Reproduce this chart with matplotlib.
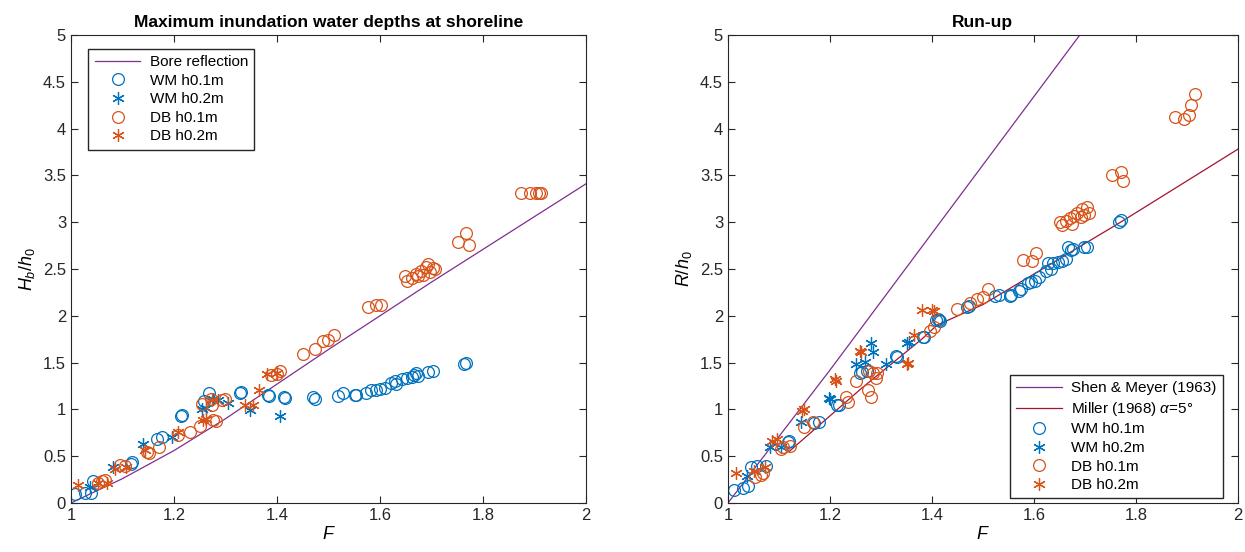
import matplotlib.pyplot as plt

plt.rcParams['font.family'] = ['Liberation Sans', 'DejaVu Sans']
plt.rcParams['mathtext.fontset'] = 'custom'
plt.rcParams['mathtext.rm'] = 'Liberation Sans'
plt.rcParams['mathtext.it'] = 'Liberation Sans:italic'

blue = "#0072BD"
orange = "#D95319"
purple = "#7E2F8E"
darkred = "#A2142F"

# ---- left panel: max inundation depth at shoreline ----
bore_F = [1.0, 1.1, 1.2, 1.3, 1.4, 1.5, 1.6, 1.7, 1.8, 1.9, 2.0]
bore_H = [0.0, 0.26, 0.56, 0.90, 1.27, 1.64, 2.0, 2.36, 2.71, 3.06, 3.41]

wm1_F = [1.008, 1.028, 1.038, 1.042, 1.116, 1.119, 1.167, 1.177, 1.214, 1.215, 1.258, 1.268,
         1.329, 1.331, 1.383, 1.385, 1.413, 1.415, 1.47, 1.474, 1.518, 1.528, 1.551, 1.554,
         1.572, 1.582, 1.593, 1.60, 1.609, 1.622, 1.629, 1.632, 1.642, 1.652, 1.663, 1.666,
         1.67, 1.673, 1.693, 1.703, 1.764, 1.767]
wm1_H = [0.10, 0.11, 0.11, 0.23, 0.42, 0.44, 0.68, 0.70, 0.93, 0.94, 1.09, 1.17,
         1.18, 1.19, 1.15, 1.14, 1.13, 1.12, 1.13, 1.11, 1.14, 1.17, 1.15, 1.15,
         1.18, 1.21, 1.21, 1.22, 1.23, 1.28, 1.30, 1.27, 1.32, 1.33, 1.35, 1.37,
         1.39, 1.36, 1.40, 1.41, 1.48, 1.50]

wm2_F = [1.037, 1.082, 1.140, 1.197, 1.254, 1.262, 1.276, 1.285, 1.305, 1.348, 1.406]
wm2_H = [0.17, 0.38, 0.63, 0.70, 1.00, 1.01, 1.11, 1.10, 1.07, 0.99, 0.93]

db1_F = [1.053, 1.060, 1.066, 1.095, 1.105, 1.147, 1.152, 1.170, 1.208, 1.231, 1.25, 1.276,
         1.281, 1.254, 1.271, 1.273, 1.293, 1.30, 1.389, 1.40, 1.405, 1.45, 1.474, 1.489,
         1.50, 1.511, 1.577, 1.593, 1.602, 1.649, 1.652, 1.663, 1.67, 1.673, 1.68, 1.684,
         1.69, 1.693, 1.697, 1.703, 1.706, 1.752, 1.767, 1.773, 1.874, 1.892, 1.902, 1.908,
         1.912]
db1_H = [0.21, 0.23, 0.25, 0.41, 0.40, 0.55, 0.53, 0.60, 0.73, 0.76, 0.82, 0.89,
         0.88, 1.06, 1.11, 1.05, 1.10, 1.11, 1.37, 1.38, 1.41, 1.59, 1.65, 1.73,
         1.74, 1.79, 2.09, 2.11, 2.11, 2.42, 2.37, 2.40, 2.45, 2.43, 2.48, 2.44,
         2.52, 2.55, 2.47, 2.51, 2.50, 2.79, 2.88, 2.76, 3.31, 3.31, 3.31, 3.31,
         3.31]

db2_F = [1.014, 1.052, 1.069, 1.085, 1.107, 1.144, 1.208, 1.257, 1.262, 1.273, 1.338, 1.354,
         1.366, 1.38, 1.40]
db2_H = [0.19, 0.21, 0.21, 0.36, 0.38, 0.57, 0.76, 0.89, 0.90, 1.10, 1.05, 1.05,
         1.21, 1.38, 1.39]

# ---- right panel: run-up ----
shen_F = [1.0, 1.2, 1.69]
shen_R = [0.0, 1.42, 5.0]

miller_F = [1.12, 1.263, 1.38, 1.41, 1.5, 1.77, 2.0]
miller_R = [0.55, 1.23, 1.75, 1.90, 2.12, 3.0, 3.78]

rwm1_F = [1.011, 1.03, 1.04, 1.046, 1.056, 1.074, 1.117, 1.12, 1.169, 1.178, 1.213, 1.217,
          1.259, 1.262, 1.272, 1.329, 1.332, 1.383, 1.385, 1.408, 1.411, 1.413, 1.415,
          1.468, 1.473, 1.524, 1.531, 1.553, 1.556, 1.57, 1.574, 1.588, 1.595, 1.602, 1.609,
          1.623, 1.627, 1.634, 1.637, 1.647, 1.655, 1.662, 1.666, 1.673, 1.676, 1.698, 1.705,
          1.767, 1.77]
rwm1_R = [0.14, 0.16, 0.18, 0.38, 0.39, 0.39, 0.65, 0.66, 0.85, 0.87, 1.05, 1.05,
          1.39, 1.40, 1.41, 1.57, 1.56, 1.77, 1.77, 1.95, 1.97, 1.95, 1.94,
          2.09, 2.10, 2.21, 2.22, 2.21, 2.22, 2.26, 2.29, 2.35, 2.36, 2.37, 2.41,
          2.48, 2.56, 2.50, 2.56, 2.58, 2.59, 2.61, 2.73, 2.70, 2.71, 2.73, 2.73,
          3.00, 3.02]

rwm2_F = [1.037, 1.083, 1.104, 1.143, 1.199, 1.2, 1.252, 1.268, 1.281, 1.284, 1.309, 1.351, 1.355]
rwm2_R = [0.29, 0.60, 0.60, 0.87, 1.12, 1.11, 1.48, 1.51, 1.71, 1.61, 1.49, 1.71, 1.72]

rdb1_F = [1.054, 1.065, 1.069, 1.104, 1.107, 1.122, 1.15, 1.167, 1.231, 1.235, 1.252, 1.274,
          1.281, 1.277, 1.284, 1.291, 1.293, 1.397, 1.404, 1.45, 1.475, 1.489, 1.50, 1.51,
          1.579, 1.597, 1.604, 1.652, 1.656, 1.663, 1.67, 1.674, 1.678, 1.685, 1.692, 1.695,
          1.698, 1.705, 1.708, 1.754, 1.77, 1.775, 1.876, 1.894, 1.904, 1.908, 1.915]
rdb1_R = [0.28, 0.30, 0.32, 0.58, 0.60, 0.61, 0.81, 0.86, 1.13, 1.08, 1.30, 1.21,
          1.13, 1.41, 1.39, 1.33, 1.39, 1.84, 1.88, 2.07, 2.14, 2.18, 2.20, 2.29,
          2.60, 2.59, 2.67, 3.00, 2.97, 3.01, 3.05, 2.98, 3.07, 3.10, 3.06, 3.14,
          3.08, 3.16, 3.10, 3.50, 3.54, 3.44, 4.12, 4.10, 4.14, 4.25, 4.37]

rdb2_F = [1.016, 1.051, 1.072, 1.086, 1.097, 1.146, 1.15, 1.21, 1.212, 1.259, 1.261,
          1.351, 1.353, 1.365, 1.381, 1.401, 1.404]
rdb2_R = [0.32, 0.34, 0.38, 0.66, 0.68, 0.98, 1.00, 1.32, 1.30, 1.62, 1.61,
          1.48, 1.50, 1.80, 2.06, 2.06, 2.05]

star = (6, 2, 0)
ms_o = 8.5
ms_s = 9
mew = 0.9

fig = plt.figure(figsize=(12.45, 5.52), dpi=100)
ax1 = fig.add_axes([0.057, 0.0888, 0.4137, 0.8478])
ax2 = fig.add_axes([0.5847, 0.0888, 0.4096, 0.8478])

leg_kw = dict(fontsize=11, fancybox=False, edgecolor='#262626', framealpha=1,
              labelspacing=0.3, handlelength=3.0, handletextpad=0.6, borderpad=0.4)

ax1.plot(bore_F, bore_H, color=purple, lw=0.9, label="Bore reflection", zorder=1)
ax1.plot(wm1_F, wm1_H, 'o', ls='none', mfc='none', mec=blue, ms=ms_o, mew=mew, label="WM h0.1m")
ax1.plot(wm2_F, wm2_H, marker=star, ls='none', color=blue, ms=ms_s, mew=mew, label="WM h0.2m")
ax1.plot(db1_F, db1_H, 'o', ls='none', mfc='none', mec=orange, ms=ms_o, mew=mew, label="DB h0.1m")
ax1.plot(db2_F, db2_H, marker=star, ls='none', color=orange, ms=ms_s, mew=mew, label="DB h0.2m")
ax1.set_title("Maximum inundation water depths at shoreline", fontsize=12.5, fontweight='bold')
ax1.set_ylabel(r'$H_b/h_0$', fontsize=13)
ax1.legend(loc='upper left', bbox_to_anchor=(0.034, 0.97), borderaxespad=0, **leg_kw)

ax2.plot(shen_F, shen_R, color=purple, lw=0.9, label="Shen & Meyer (1963)", zorder=1)
ax2.plot(miller_F, miller_R, color=darkred, lw=0.9, label=r'Miller (1968) $\alpha$=5°', zorder=1)
ax2.plot(rwm1_F, rwm1_R, 'o', ls='none', mfc='none', mec=blue, ms=ms_o, mew=mew, label="WM h0.1m")
ax2.plot(rwm2_F, rwm2_R, marker=star, ls='none', color=blue, ms=ms_s, mew=mew, label="WM h0.2m")
ax2.plot(rdb1_F, rdb1_R, 'o', ls='none', mfc='none', mec=orange, ms=ms_o, mew=mew, label="DB h0.1m")
ax2.plot(rdb2_F, rdb2_R, marker=star, ls='none', color=orange, ms=ms_s, mew=mew, label="DB h0.2m")
ax2.set_title("Run-up", fontsize=12.5, fontweight='bold')
ax2.set_ylabel(r'$R/h_0$', fontsize=13)
ax2.legend(loc='lower right', bbox_to_anchor=(0.97, 0.01), borderaxespad=0, **leg_kw)

for ax in (ax1, ax2):
    ax.set_xlim(1, 2)
    ax.set_ylim(0, 5)
    ax.set_xticks([1, 1.2, 1.4, 1.6, 1.8, 2])
    ax.set_xticklabels(['1', '1.2', '1.4', '1.6', '1.8', '2'])
    ax.set_yticks([0, 0.5, 1, 1.5, 2, 2.5, 3, 3.5, 4, 4.5, 5])
    ax.set_yticklabels(['0', '0.5', '1', '1.5', '2', '2.5', '3', '3.5', '4', '4.5', '5'])
    ax.set_xlabel(r'$F$', fontsize=13, labelpad=2)
    ax.tick_params(direction='in', top=True, right=True, labelsize=12,
                   colors='#262626', length=5)
    for s in ax.spines.values():
        s.set_color('#262626')
        s.set_linewidth(0.8)

fig.savefig("out.png", dpi=100)
